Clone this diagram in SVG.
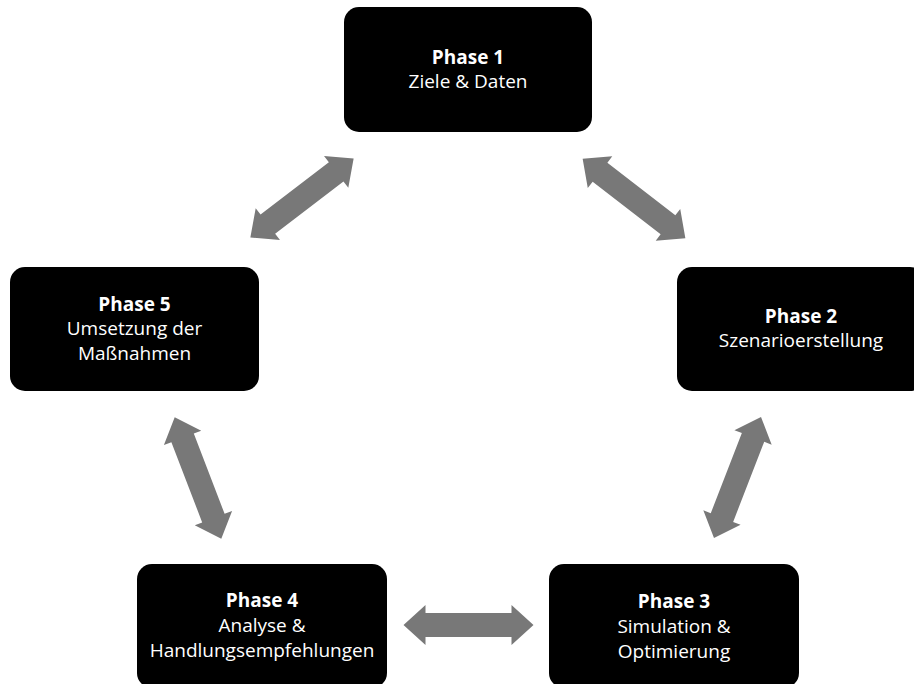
<svg xmlns="http://www.w3.org/2000/svg" width="914" height="684" viewBox="0 0 914 684">
<style>
.box{fill:#000}
.t{font-family:"Open Sans","Liberation Sans",sans-serif;font-size:19px;fill:#fff;text-anchor:middle}
.b{font-weight:bold}
.arr{fill:#787878}
</style>
<defs>
<path id="dbl" d="M -65 0 L -43 -20 L -43 -12 L 43 -12 L 43 -20 L 65 0 L 43 20 L 43 12 L -43 12 L -43 20 Z"/>
</defs>
<rect width="914" height="684" fill="#fff"/>
<g id="connectors" class="arr">
<use href="#dbl" transform="translate(302 198) rotate(-37.4)"/>
<use href="#dbl" transform="translate(634 198.5) rotate(37.8)"/>
<use href="#dbl" transform="translate(737.5 477.5) rotate(-68.8)"/>
<use href="#dbl" transform="translate(468.5 625)"/>
<use href="#dbl" transform="translate(198 478) rotate(69)"/>
</g>
<g id="phase1">
<rect class="box" x="344" y="7" width="248" height="125" rx="15"/>
<text class="t b" x="468" y="64">Phase 1</text>
<text class="t" x="468" y="88">Ziele &amp; Daten</text>
</g>
<g id="phase2">
<rect class="box" x="677" y="267" width="248" height="124" rx="15"/>
<text class="t b" x="801" y="323">Phase 2</text>
<text class="t" x="801" y="347">Szenarioerstellung</text>
</g>
<g id="phase3">
<rect class="box" x="549" y="564" width="250" height="124" rx="15"/>
<text class="t b" x="674" y="608">Phase 3</text>
<text class="t" x="674" y="633">Simulation &amp;</text>
<text class="t" x="674" y="658">Optimierung</text>
</g>
<g id="phase4">
<rect class="box" x="137" y="564" width="250" height="124" rx="15"/>
<text class="t b" x="262" y="607">Phase 4</text>
<text class="t" x="262" y="632">Analyse &amp;</text>
<text class="t" x="262" y="657">Handlungsempfehlungen</text>
</g>
<g id="phase5">
<rect class="box" x="10" y="267" width="249" height="124" rx="15"/>
<text class="t b" x="134.5" y="311">Phase 5</text>
<text class="t" x="134.5" y="335">Umsetzung der</text>
<text class="t" x="134.5" y="360">Maßnahmen</text>
</g>
</svg>
